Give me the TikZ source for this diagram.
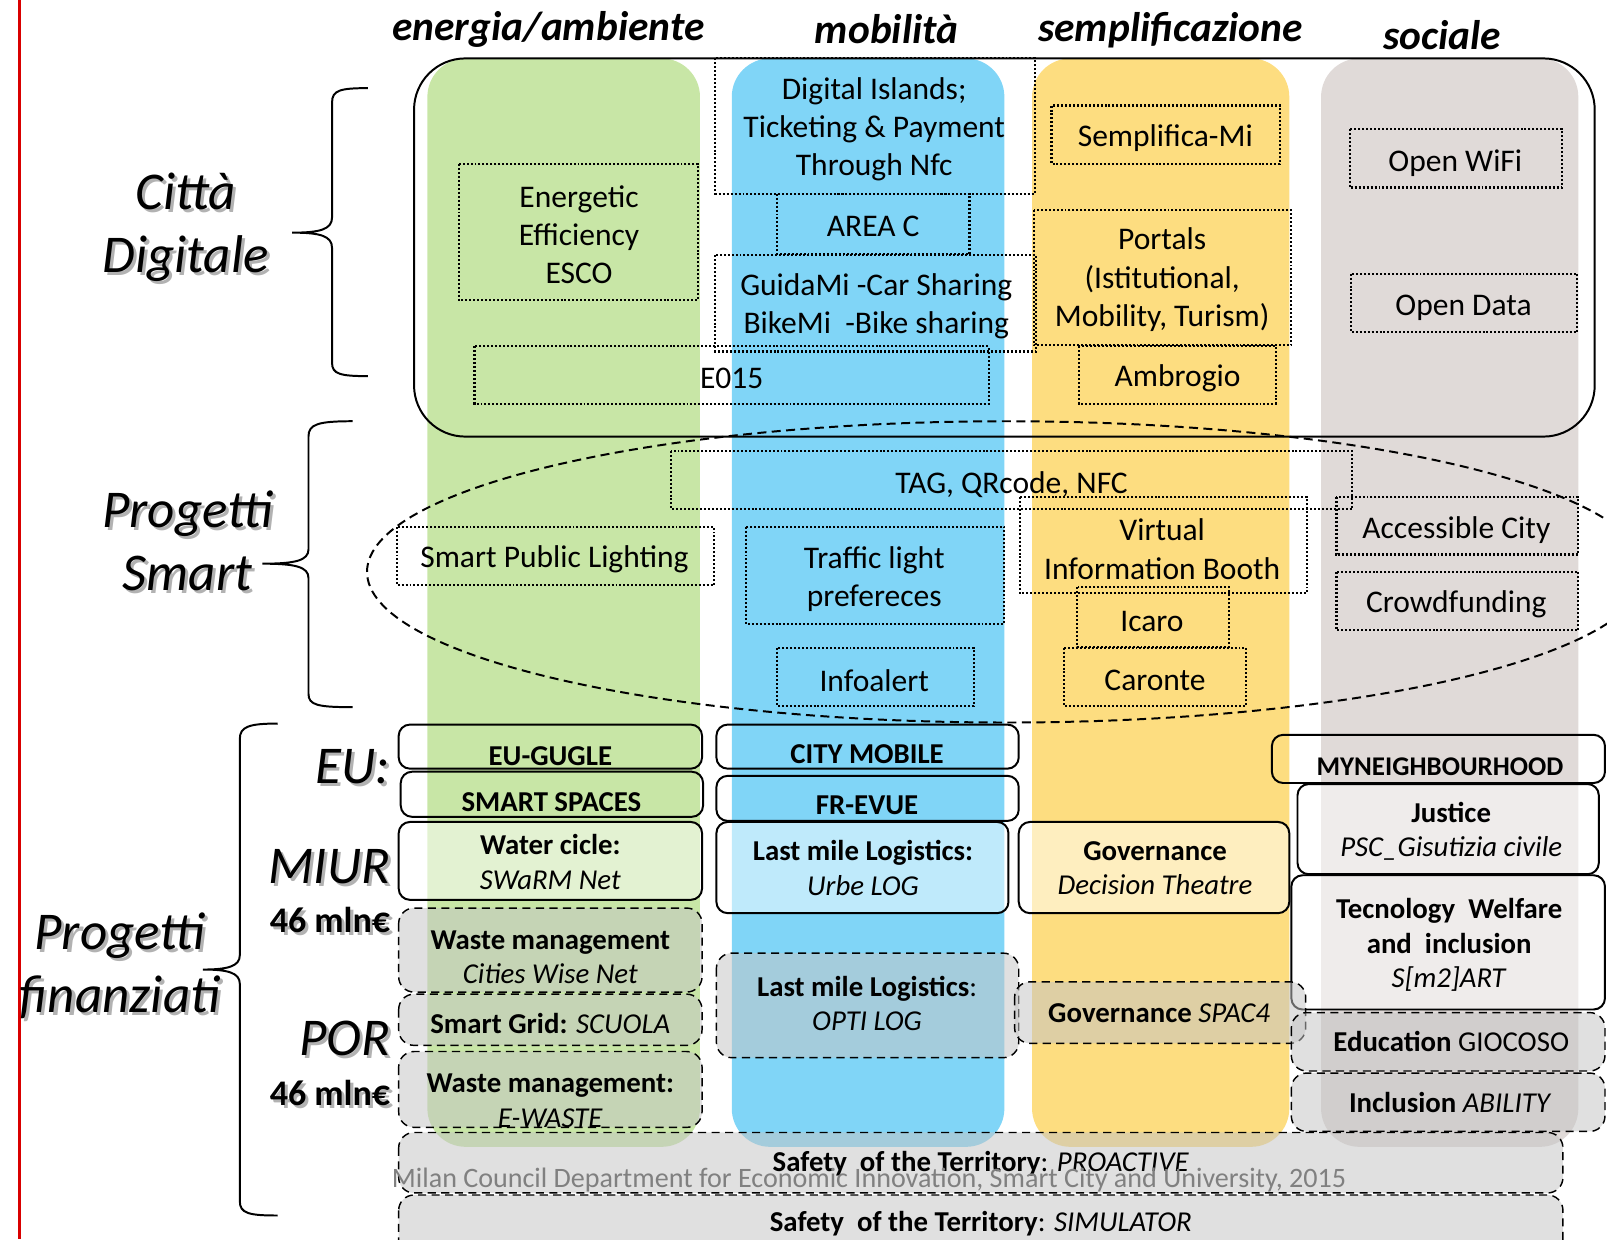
\documentclass[tikz,border=0pt]{standalone}
\usepackage{fontspec}
\setmainfont{Carlito}
\usepackage{tikz}
\usetikzlibrary{positioning}
\tikzset{font=\fontsize{17.5}{21.3}\selectfont}
\tikzset{every node/.append style={transform shape=false}}
\definecolor{verde}{RGB}{200,230,166}
\definecolor{azzurro}{RGB}{128,213,247}
\definecolor{giallo}{RGB}{253,221,128}
\definecolor{grigio}{RGB}{224,218,216}
\tikzset{
  colbar/.style={rounded corners=0.75cm},
  dotbox/.style={line width=1.2pt, dash pattern=on 1.1pt off 1.1pt},
  fundbox/.style={line width=1.1pt, rounded corners=0.22cm},
  porbox/.style={thick, dash pattern=on 4.5pt off 3pt, rounded corners=0.3cm, fill=black!23, fill opacity=.53},
  halfwhite/.style={fill=white, fill opacity=.5},
  lbl/.style={inner sep=0pt, align=center, yshift=-0.06cm},
  fund/.style={inner sep=0pt, align=center, font=\fontsize{16}{19.3}\selectfont},
  head/.style={inner sep=0pt, font=\fontsize{23}{27}\selectfont\bfseries\itshape},
  big/.style={inner sep=0pt, align=center, font=\fontsize{29.5}{35}\selectfont\itshape}
}
% text with a grey shadow: [options]{name}{x,y}{text}
\newcommand{\shadowed}[4][]{%
  \node[big,#1,text=black!30] (#2s) at ([shift={(3,3)}]#3) {#4};
  \node[big,#1] (#2) at (#3) {#4};}

\begin{document}
\begin{tikzpicture}[x=0.02cm, y=-0.02cm]
\useasboundingbox (0,0) rectangle (1568,1209);
\draw[red!85!black, line width=1.7pt] (19,0)--(19,1209);
% columns
\fill[verde, colbar] (417,57) rectangle (683,1119);
\fill[azzurro, colbar] (714,57) rectangle (980,1119);
\fill[giallo, colbar] (1007,57) rectangle (1258,1119);
\fill[grigio, colbar] (1289,57) rectangle (1540,1119);
\node[head] (hEnergia) at (535,29) {energia/ambiente};
\node[head] (hMobilita) at (865,28) {mobilità};
\node[head] (hSemplif) at (1142,29) {semplificazione};
\node[head] (hSociale) at (1407,34) {sociale};
% braces
\draw[line width=1.1pt] (359,86) .. controls (332,86) and (324,88) .. (324,100) -- (324,212)
  .. controls (324,224) and (312,227) .. (285,227) .. controls (312,227) and (324,230) .. (324,242)
  -- (324,354) .. controls (324,365) and (332,367) .. (359,367);
\draw[line width=1.1pt] (344,411) .. controls (310,411) and (301,414) .. (301,426) -- (301,536)
  .. controls (301,547) and (288,550) .. (256,550) .. controls (288,550) and (301,553) .. (301,564)
  -- (301,677) .. controls (301,688) and (310,690) .. (344,690);
\draw[line width=1.1pt] (271,706) .. controls (243,706) and (234,709) .. (234,721) -- (234,932)
  .. controls (234,943) and (222,946) .. (198,946) .. controls (222,946) and (234,949) .. (234,960)
  -- (234,1172) .. controls (234,1184) and (243,1186) .. (271,1186);
\shadowed{citta}{181,222}{Città\\Digitale}
\shadowed{smart}{183,528}{Progetti\\Smart}
\shadowed{finanziati}{117,942}{Progetti\\finanziati}
\shadowed[anchor=east]{eu}{381,748}{EU:}
\shadowed[anchor=east]{miur}{381,846}{MIUR}
\shadowed[anchor=east, font=\fontsize{20}{24}\selectfont\bfseries]{mlnMiur}{381,898}{46 mln€}
\shadowed[anchor=east]{por}{381,1013}{POR}
\shadowed[anchor=east, font=\fontsize{20}{24}\selectfont\bfseries]{mlnPor}{381,1066}{46 mln€}
% Citta Digitale
\draw[line width=1.1pt, rounded corners=1cm] (404,57) rectangle (1556,426);
\draw[dotbox] (698,57) rectangle (1010,189);
\draw[dotbox] (448,160) rectangle (681,293);
\draw[dotbox] (758,189) rectangle (946,248);
\draw[dotbox] (698,249) rectangle (1011,343);
\draw[dotbox] (463,338) rectangle (965,394);
\draw[dotbox] (1026,103) rectangle (1249,160);
\draw[dotbox] (1009,205) rectangle (1260,337);
\draw[dotbox] (1053,338) rectangle (1245,394);
\draw[dotbox] (1317,126) rectangle (1524,183);
\draw[dotbox] (1318,267) rectangle (1539,324);
\node[lbl] (digIslands) at (853,123) {Digital Islands;\\Ticketing \& Payment\\Through Nfc};
\node[lbl] (esco) at (565,226) {Energetic\\Efficiency\\ESCO};
\node[lbl] (areaC) at (852,218) {AREA C};
\node[lbl] (guidaMi) at (855,296) {GuidaMi -Car Sharing\\BikeMi\ \ -Bike sharing};
\node[lbl] (eo15) at (714,366) {E015};
\node[lbl] (semplificaMi) at (1137,132) {Semplifica-Mi};
\node[lbl] (portals) at (1134,270) {Portals\\(Istitutional,\\Mobility, Turism)};
\node[lbl] (ambrogio) at (1149,366) {Ambrogio};
\node[lbl] (openWifi) at (1420,156) {Open WiFi};
\node[lbl] (openData) at (1428,297) {Open Data};
% Progetti Smart
\draw[line width=1.1pt, dash pattern=on 5pt off 3pt] (982,558) ellipse [x radius=12.48cm, y radius=2.94cm];
\draw[dotbox] (655,440) rectangle (1319,497);
\draw[dotbox] (387,514) rectangle (697,571);
\draw[dotbox] (728,514) rectangle (980,609);
\draw[dotbox] (995,485) rectangle (1275,579);
\draw[dotbox] (1304,485) rectangle (1540,541);
\draw[dotbox] (1304,558) rectangle (1540,615);
\draw[dotbox] (1051,573) rectangle (1199,631);
\draw[dotbox] (758,632) rectangle (950,689);
\draw[dotbox] (1038,632) rectangle (1216,689);
\node[lbl] (tag) at (987,470) {TAG, QRcode, NFC};
\node[lbl] (lighting) at (541,543) {Smart Public Lighting};
\node[lbl] (traffic) at (853,562) {Traffic light\\prefereces};
\node[lbl] (booth) at (1134,533) {Virtual\\Information Booth};
\node[lbl] (accessible) at (1421,514) {Accessible City};
\node[lbl] (crowd) at (1421,587) {Crowdfunding};
\node[lbl] (icaro) at (1124,603) {Icaro};
\node[lbl] (infoalert) at (853,661) {Infoalert};
\node[lbl] (caronte) at (1127,661) {Caronte};
% Progetti finanziati
\draw[fundbox] (389,707) rectangle (685,750);
\draw[fundbox] (391,753) rectangle (686,797);
\draw[fundbox] (699,707) rectangle (994,750);
\draw[fundbox] (699,757) rectangle (994,801);
\draw[fundbox] (1241,717) rectangle (1566,764);
\draw[fundbox, halfwhite] (1266,765) rectangle (1560,853);
\draw[fundbox, halfwhite] (1260,854) rectangle (1566,985);
\draw[fundbox, halfwhite] (389,802) rectangle (685,878);
\draw[fundbox, halfwhite] (699,802) rectangle (984,891);
\draw[fundbox, halfwhite] (994,802) rectangle (1258,891);
\draw[porbox] (389,886) rectangle (685,968);
\draw[porbox] (389,970) rectangle (685,1020);
\draw[porbox] (389,1026) rectangle (685,1100);
\draw[porbox] (699,930) rectangle (994,1032);
\draw[porbox] (990,958) rectangle (1274,1018);
\draw[porbox] (1260,988) rectangle (1566,1045);
\draw[porbox] (1260,1047) rectangle (1566,1104);
\draw[porbox] (389,1105) rectangle (1525,1164);
\draw[porbox] (389,1166) rectangle (1525,1240);
\node[fund] (euGugle) at (537,738) {\textbf{EU-GUGLE}};
\node[fund] (smartSpaces) at (538,783) {\textbf{SMART SPACES}};
\node[fund] (cityMobile) at (846,736) {\textbf{CITY MOBILE}};
\node[fund] (frEvue) at (846,786) {\textbf{FR-EVUE}};
\node[fund, font=\fontsize{15}{18}\selectfont] (myNeigh) at (1405,748) {\textbf{MYNEIGHBOURHOOD}};
\node[fund] (water) at (537,841) {\textbf{Water cicle:}\\\textit{SWaRM Net}};
\node[fund] (urbeLog) at (842,847) {\textbf{Last mile Logistics:}\\\textit{Urbe LOG}};
\node[fund] (decision) at (1127,847) {\textbf{Governance}\\\textit{Decision Theatre}};
\node[fund] (justice) at (1416,811) {\textbf{Justice}\\\textit{PSC\_Gisutizia civile}};
\node[fund] (welfare) at (1414,922) {\textbf{Tecnology\ \ Welfare}\\\textbf{and\ \ inclusion}\\\textit{S[m2]ART}};
\node[fund] (citiesWise) at (537,934) {\textbf{Waste management}\\\textit{Cities Wise Net}};
\node[fund] (scuola) at (537,999) {\textbf{Smart Grid:} \textit{SCUOLA}};
\node[fund] (eWaste) at (537,1074) {\textbf{Waste management:}\\\textit{E-WASTE}};
\node[fund] (optiLog) at (846,979) {\textbf{Last mile Logistics}:\\\textit{OPTI LOG}};
\node[fund] (spac4) at (1131,989) {\textbf{Governance} \textit{SPAC4}};
\node[fund] (giocoso) at (1416,1016) {\textbf{Education} GIOCOSO};
\node[fund] (ability) at (1415,1076) {\textbf{Inclusion} \textit{ABILITY}};
\node[fund] (proactive) at (957,1135) {\textbf{Safety\ \ of the Territory}: \textit{PROACTIVE}};
\node[fund] (simulator) at (957,1194) {\textbf{Safety\ \ of the Territory}: \textit{SIMULATOR}};
\node[fund, font=\fontsize{15.6}{19}\selectfont, text=black!50] (credit) at (848,1151) {Milan Council Department for Economic Innovation, Smart City and University, 2015};
\end{tikzpicture}
\end{document}
